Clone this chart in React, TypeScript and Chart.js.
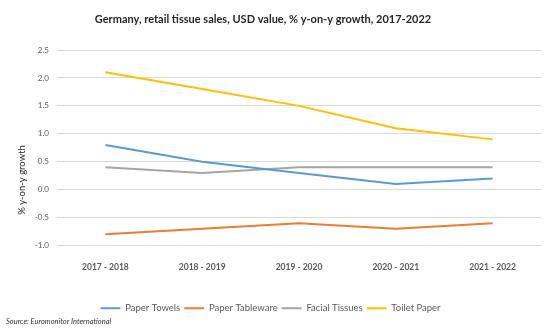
import React, { useEffect, useRef } from "react";
import { Chart, registerables } from "chart.js";

Chart.register(...registerables);

const categories = ["2017 - 2018", "2018 - 2019", "2019 - 2020", "2020 - 2021", "2021 - 2022"];
const paperTowels = [0.8, 0.5, 0.3, 0.1, 0.2];
const paperTableware = [-0.8, -0.7, -0.6, -0.7, -0.6];
const facialTissues = [0.4, 0.3, 0.4, 0.4, 0.4];
const toiletPaper = [2.1, 1.8, 1.5, 1.1, 0.9];

const titleText = "Germany, retail tissue sales, USD value, % y-on-y growth, 2017-2022";
const yTitleText = "% y-on-y growth";
const sourceText = "Source: Euromonitor International";

const FONT = "Lato, 'Open Sans', sans-serif";

const textPlugin = {
  id: "extraText",
  afterDraw(chart: any) {
    const ctx = chart.ctx;
    ctx.save();
    ctx.fillStyle = "#262626";
    ctx.font = `bold 11px ${FONT}`;
    ctx.textAlign = "center";
    ctx.textBaseline = "middle";
    ctx.fillText(titleText, 263, 19);

    ctx.save();
    ctx.translate(22, 180);
    ctx.rotate(-Math.PI / 2);
    ctx.font = `9.5px ${FONT}`;
    ctx.fillStyle = "#262626";
    ctx.fillText(yTitleText, 0, 0);
    ctx.restore();

    ctx.font = `italic 7.5px ${FONT}`;
    ctx.fillStyle = "#333333";
    ctx.textAlign = "left";
    ctx.fillText(sourceText, 6, 322);
    ctx.restore();
  },
};

function mk(label: string, data: number[], color: string) {
  return {
    label,
    data,
    borderColor: color,
    backgroundColor: color,
    borderWidth: 2,
    pointRadius: 0,
    pointHoverRadius: 0,
    tension: 0,
    fill: false,
  };
}

export default function App() {
  const ref = useRef<HTMLCanvasElement>(null);
  useEffect(() => {
    document.body.style.margin = "0";
    const chart = new Chart(ref.current as HTMLCanvasElement, {
      type: "line",
      data: {
        labels: categories,
        datasets: [
          mk("Paper Towels", paperTowels, "#5B9BD5"),
          mk("Paper Tableware", paperTableware, "#ED7D31"),
          mk("Facial Tissues", facialTissues, "#A5A5A5"),
          mk("Toilet Paper", toiletPaper, "#FFC000"),
        ],
      },
      options: {
        animation: false,
        responsive: false,
        layout: { padding: { left: 0, right: 9, top: 50, bottom: 8 } },
        plugins: {
          title: { display: false },
          tooltip: { enabled: false },
          legend: {
            position: "bottom",
            labels: {
              usePointStyle: true,
              pointStyle: "line",
              pointStyleWidth: 20,
              boxHeight: 8,
              padding: 4,
              color: "#595959",
              font: { family: FONT, size: 9.5 },
            },
          },
        },
        scales: {
          x: {
            offset: true,
            grid: { display: false },
            border: { display: false },
            ticks: {
              color: "#595959",
              padding: 9,
              maxRotation: 0,
              font: { family: FONT, size: 8.5, weight: "bold" },
            },
            afterFit: (s: any) => {
              s.height = 54;
            },
          },
          y: {
            min: -1,
            max: 2.5,
            grid: { color: "#D9D9D9", lineWidth: 1, drawTicks: false },
            border: { display: false },
            ticks: {
              stepSize: 0.5,
              padding: 8,
              color: "#595959",
              font: { family: FONT, size: 8 },
              callback: (v: any) => Number(v).toFixed(1),
            },
            afterFit: (s: any) => {
              s.width = 57;
            },
          },
        },
      },
      plugins: [textPlugin],
    });
    return () => chart.destroy();
  }, []);
  return (
    <div style={{ width: 550, height: 331 }}>
      <canvas ref={ref} width={550} height={331} />
    </div>
  );
}
